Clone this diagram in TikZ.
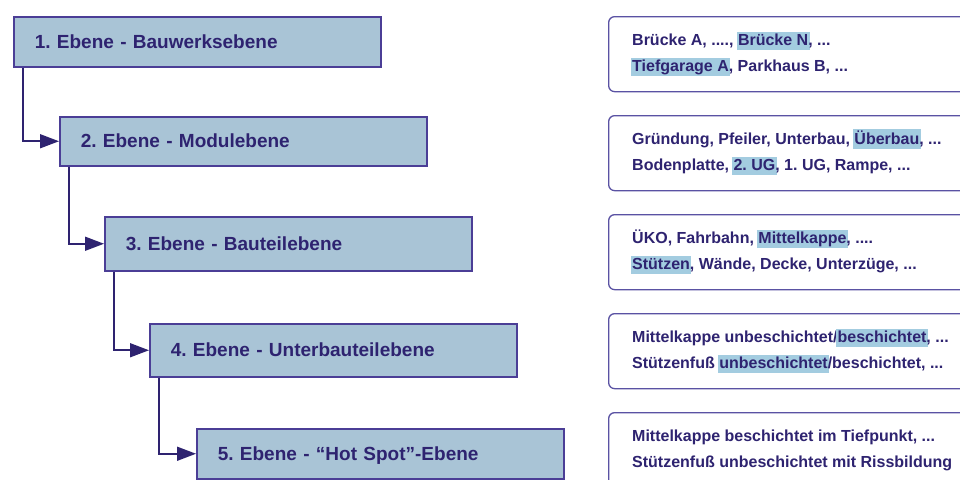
\documentclass[tikz,border=0pt]{standalone}
\usepackage{fontspec}
\setmainfont{Liberation Sans}
\usetikzlibrary{arrows.meta}

\definecolor{lvlfill}{HTML}{A9C4D6}
\definecolor{lvldraw}{HTML}{4B3E96}
\definecolor{ink}{HTML}{2E2370}
\definecolor{infodraw}{HTML}{5A52A3}
\definecolor{hlc}{HTML}{A3CCE0}

% highlighted word inside the example lists
\newcommand\hlword[1]{{\setlength{\fboxsep}{1.5pt}\hspace{-1.5pt}\colorbox{hlc}{\rule[-3pt]{0pt}{13pt}#1}\hspace{-1.5pt}}}

\begin{document}
\frenchspacing
\begin{tikzpicture}[x=1pt,y=-1pt,
  lvl/.style={draw=lvldraw, line width=1.5pt, fill=lvlfill, anchor=north west,
    minimum width=367pt, inner xsep=21pt, text width=325pt, align=left,
    text height=13pt, text depth=0pt,
    font=\fontsize{19}{22}\selectfont\bfseries, text=ink},
  conn/.style={draw=ink, line width=1.6pt, -{Triangle[length=19pt,width=14pt]}},
  info/.style={draw=infodraw, line width=1.3pt, fill=white, rounded corners=6pt,
    anchor=north west, minimum width=372pt, minimum height=75pt},
  itxt/.style={anchor=base west, inner sep=0pt,
    font=\fontsize{16}{20}\selectfont\bfseries, text=ink}]

\useasboundingbox[fill=white] (0,0) rectangle (960,479);

% level boxes
\node[lvl, minimum height=50pt] (l1) at (13,16)  {1. Ebene - Bauwerksebene};
\node[lvl, minimum height=49pt] (l2) at (59,116) {2. Ebene - Modulebene};
\node[lvl, minimum height=54pt] (l3) at (104,216) {3. Ebene - Bauteilebene};
\node[lvl, minimum height=53pt] (l4) at (149,323) {4. Ebene - Unterbauteilebene};
\node[lvl, minimum height=50pt] (l5) at (196,428) {5. Ebene - “Hot Spot”-Ebene};

% step connectors
\draw[conn] ([xshift=10pt]l1.south west) |- (l2.west);
\draw[conn] ([xshift=10pt]l2.south west) |- (l3.west);
\draw[conn] ([xshift=10pt]l3.south west) |- (l4.west);
\draw[conn] ([xshift=10pt]l4.south west) |- (l5.west);

% example boxes
\node[info] (r1) at (608,16)  {};
\node[info] (r2) at (608,115) {};
\node[info] (r3) at (608,214) {};
\node[info] (r4) at (608,313) {};
\node[info] (r5) at (608,412) {};

\node[itxt] (r1a) at ([shift={(24,29)}]r1.north west) {Brücke A, ...., \hlword{Brücke N}, ...};
\node[itxt] (r1b) at ([shift={(24,55)}]r1.north west) {\hlword{Tiefgarage A}, Parkhaus B, ...};
\node[itxt] (r2a) at ([shift={(24,29)}]r2.north west) {Gründung, Pfeiler, Unterbau, \hlword{Überbau}, ...};
\node[itxt] (r2b) at ([shift={(24,55)}]r2.north west) {Bodenplatte, \hlword{2. UG}, 1. UG, Rampe, ...};
\node[itxt] (r3a) at ([shift={(24,29)}]r3.north west) {ÜKO, Fahrbahn, \hlword{Mittelkappe}, ....};
\node[itxt] (r3b) at ([shift={(24,55)}]r3.north west) {\hlword{Stützen}, Wände, Decke, Unterzüge, ...};
\node[itxt] (r4a) at ([shift={(24,29)}]r4.north west) {Mittelkappe unbeschichtet/\hlword{beschichtet}, ...};
\node[itxt] (r4b) at ([shift={(24,55)}]r4.north west) {Stützenfuß \hlword{unbeschichtet}/beschichtet, ...};
\node[itxt] (r5a) at ([shift={(24,29)}]r5.north west) {Mittelkappe beschichtet im Tiefpunkt, ...};
\node[itxt] (r5b) at ([shift={(24,55)}]r5.north west) {Stützenfuß unbeschichtet mit Rissbildung};
\end{tikzpicture}
\end{document}
